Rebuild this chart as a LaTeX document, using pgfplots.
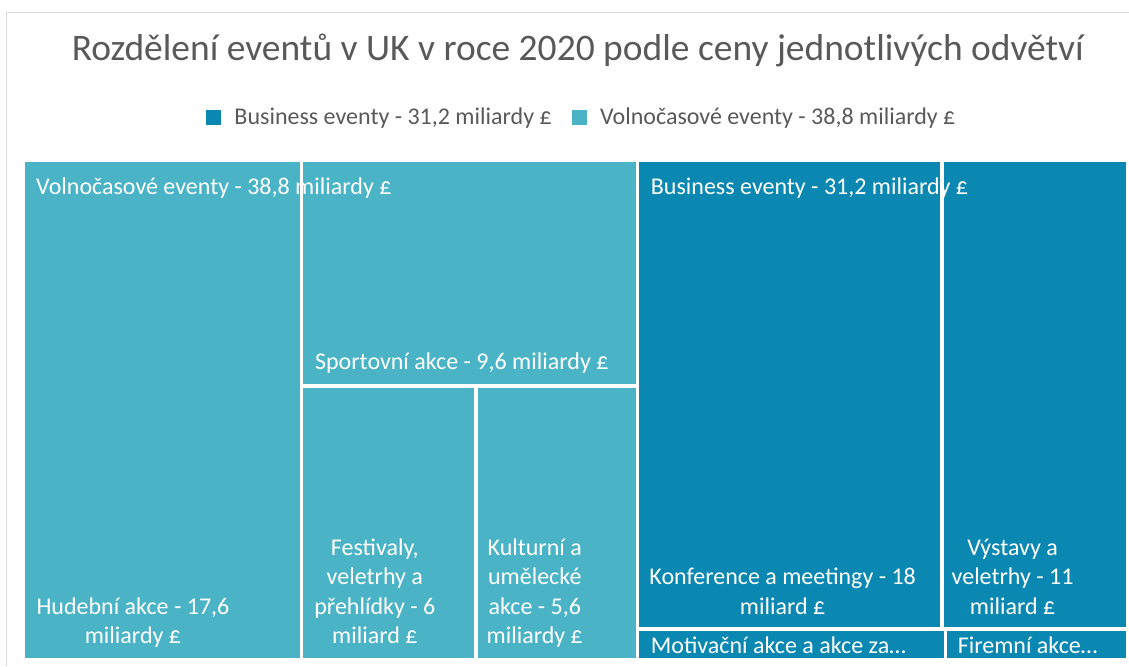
\documentclass[border=0pt]{standalone}
\usepackage{pgfplots}
\pgfplotsset{compat=1.18}
\usepackage{fontspec}
\setmainfont{Carlito}
\definecolor{leis}{HTML}{4AB4C6}
\definecolor{bus}{HTML}{0A88B2}
\definecolor{txt}{HTML}{595959}
\newcommand{\lbl}[4]{\node[anchor=#3,inner sep=0pt,text=white,font=\fontsize{24}{28}\selectfont] at (axis cs:#1,#2) {#4};}
\begin{document}
\begin{tikzpicture}
\begin{axis}[width=1129pt,height=666pt,scale only axis,
  xmin=0,xmax=1129,ymin=0,ymax=666,y dir=reverse,hide axis,clip=false,
  legend style={at={(axis cs:581,117)},anchor=center,draw=none,fill=none,
    legend columns=2,font=\fontsize{24}{28}\selectfont,text=txt,
    nodes={inner sep=0pt},
    /tikz/every odd column/.append style={column sep=14pt},
    /tikz/every even column/.append style={column sep=20pt}},
]
\path (axis cs:0,0) rectangle (axis cs:1129,666);
\draw[color=black!15,line width=1pt] (axis cs:7,666) -- (axis cs:7,13) -- (axis cs:1129,13);
\addlegendimage{legend image code/.code={\fill[bus] (0pt,-7pt) rectangle (14pt,7pt);}}
\addlegendentry{Business eventy - 31,2 miliardy £}
\addlegendimage{legend image code/.code={\fill[leis] (0pt,-7pt) rectangle (14pt,7pt);}}
\addlegendentry{Volnočasové eventy - 38,8 miliardy £}
% Volnočasové eventy - 38,8
\addplot[fill=leis,draw=none,forget plot] coordinates {(25,162) (300,162) (300,658) (25,658)} -- cycle; % Hudební akce 17,6
\addplot[fill=leis,draw=none,forget plot] coordinates {(303,162) (636,162) (636,384) (303,384)} -- cycle; % Sportovní akce 9,6
\addplot[fill=leis,draw=none,forget plot] coordinates {(303,388) (474,388) (474,658) (303,658)} -- cycle; % Festivaly 6
\addplot[fill=leis,draw=none,forget plot] coordinates {(478,388) (636,388) (636,658) (478,658)} -- cycle; % Kulturní 5,6
% Business eventy - 31,2
\addplot[fill=bus,draw=none,forget plot] coordinates {(639,162) (940,162) (940,627) (639,627)} -- cycle; % Konference 18
\addplot[fill=bus,draw=none,forget plot] coordinates {(944,162) (1126,162) (1126,627) (944,627)} -- cycle; % Výstavy 11
\addplot[fill=bus,draw=none,forget plot] coordinates {(639,631) (944,631) (944,658) (639,658)} -- cycle; % Motivační
\addplot[fill=bus,draw=none,forget plot] coordinates {(947,631) (1126,631) (1126,658) (947,658)} -- cycle; % Firemní
% title
\node[anchor=base,inner sep=0pt,text=txt,font=\fontsize{37.5}{42}\selectfont] at (axis cs:578,61) {Rozdělení eventů v UK v roce 2020 podle ceny jednotlivých odvětví};
% labels
\lbl{36}{195}{base west}{Volnočasové eventy - 38,8 miliardy £}
\lbl{133}{615}{base}{Hudební akce - 17,6}
\lbl{133}{644}{base}{miliardy £}
\lbl{315}{370}{base west}{Sportovní akce - 9,6 miliardy £}
\lbl{375}{556}{base}{Festivaly,}
\lbl{375}{585}{base}{veletrhy a}
\lbl{375}{615}{base}{přehlídky - 6}
\lbl{375}{644}{base}{miliard £}
\lbl{535}{556}{base}{Kulturní a}
\lbl{535}{585}{base}{umělecké}
\lbl{535}{615}{base}{akce - 5,6}
\lbl{535}{644}{base}{miliardy £}
\lbl{651}{195}{base west}{Business eventy - 31,2 miliardy £}
\lbl{783}{585}{base}{Konference a meetingy - 18}
\lbl{783}{615}{base}{miliard £}
\lbl{1013}{556}{base}{Výstavy a}
\lbl{1013}{585}{base}{veletrhy - 11}
\lbl{1013}{615}{base}{miliard £}
\lbl{651}{654}{base west}{Motivační akce a akce za…}
\lbl{958}{654}{base west}{Firemní akce…}
\end{axis}
\end{tikzpicture}
\end{document}
